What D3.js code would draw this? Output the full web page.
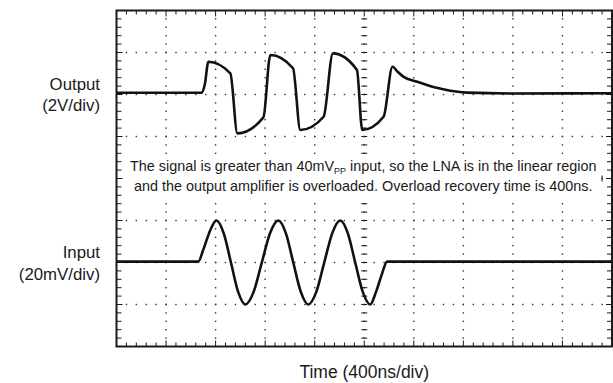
<!DOCTYPE html>
<html>
<head>
<meta charset="utf-8">
<script src="https://cdn.jsdelivr.net/npm/d3@7"></script>
<style>
html,body{margin:0;padding:0;background:#fff;}
svg{display:block;font-family:"Liberation Sans",Arial,Helvetica,sans-serif;}
</style>
</head>
<body>
<svg id="chart" width="613" height="383"></svg>
<script>
// ---- data ----
// time axis: 400 ns/div, 10 divisions
const timeDomain = [0, 4000];
// Output trace (V), 2 V/div
const outputTime  = [0, 686, 712, 742, 919, 976, 1186, 1242, 1425, 1484, 1672, 1747, 1941, 1984, 2156, 2228, 2270, 2315, 2428, 2530, 2637, 2740, 2831, 3200, 4000];
const outputVolts = [0.08, 0.08, 0.45, 1.56, 1.01, -1.85, -1.09, 1.88, 1.25, -1.69, -1.06, 1.96, 1.17, -1.69, -1.06, 1.32, 1.08, 0.85, 0.61, 0.40, 0.25, 0.14, 0.09, 0.05, 0.06];
// Input trace (mV), 20 mV/div
const inputTime = [0, 661, 700, 758, 806, 865, 924, 982, 1040, 1107, 1173, 1240, 1306, 1367, 1427, 1488, 1548, 1613, 1677, 1742, 1806, 1867, 1927, 1988, 2048, 2095, 2140, 2185, 4000];
const inputMilliVolts = [0.4, 0.4, 6, 15.5, 20, 14, 0, -14, -20, -14, 0, 14, 20, 14, 0, -14, -20, -14, 0, 14, 20, 14, 0, -14, -20, -14, -6, 0.4, 0.4];
// labels
const channelLabels = [["Output", "(2V/div)"], ["Input", "(20mV/div)"]];
const xAxisTitle = "Time (400ns/div)";
const noteLine1 = ["The signal is greater than 40mV", "PP", " input, so the LNA is in the linear region"];
const noteLine2 = "and the output amplifier is overloaded. Overload recovery time is 400ns.";

// ---- layout ----
const L = 116.5, R = 612, T = 10.5, B = 346.5;
const svg = d3.select("#chart");
const ink = "#1a1a1a";

const x = d3.scaleLinear().domain(timeDomain).range([L, R]);
const yDiv = d3.scaleLinear().domain([-4, 4]).range([B, T]);
const yOut = d3.scaleLinear().domain([-12, 4]).range([B, T]);   // 0 V at +2 div
const yIn = d3.scaleLinear().domain([-40, 120]).range([B, T]);  // 0 mV at -2 div

const majorX = d3.range(400, 4000, 400);
const minorX = d3.range(0, 4000.1, 80);
const majorY = d3.range(-3, 4, 1);
const minorY = d3.range(-4, 4.01, 0.2).map(v => +v.toFixed(2));

const g = svg.append("g");

// dotted grid
const dots = g.append("g").attr("fill", "#333");
majorX.forEach(t => {
  minorY.forEach(v => {
    if (v <= -4 || v >= 4) return;
    dots.append("rect").attr("x", x(t) - 0.7).attr("y", yDiv(v) - 0.7).attr("width", 1.4).attr("height", 1.4);
  });
});
majorY.forEach(v => {
  minorX.forEach(t => {
    if (t <= 0 || t >= 4000) return;
    dots.append("rect").attr("x", x(t) - 0.7).attr("y", yDiv(v) - 0.7).attr("width", 1.4).attr("height", 1.4);
  });
});

// center cross ticks
const cross = g.append("g").attr("stroke", ink).attr("stroke-width", 1);
minorY.forEach(v => {
  if (v <= -4 || v >= 4) return;
  cross.append("line").attr("x1", x(2000) - 3).attr("x2", x(2000) + 3).attr("y1", yDiv(v)).attr("y2", yDiv(v));
});
minorX.forEach(t => {
  if (t <= 0 || t >= 4000) return;
  cross.append("line").attr("x1", x(t)).attr("x2", x(t)).attr("y1", yDiv(0) - 3).attr("y2", yDiv(0) + 3);
});

// frame ticks
const ticks = g.append("g").attr("stroke", ink).attr("stroke-width", 1);
minorX.forEach(t => {
  if (t <= 0 || t >= 4000) return;
  const len = (Math.round(t) % 400 === 0) ? 6 : 4;
  ticks.append("line").attr("x1", x(t)).attr("x2", x(t)).attr("y1", T).attr("y2", T + len);
  ticks.append("line").attr("x1", x(t)).attr("x2", x(t)).attr("y1", B).attr("y2", B - len);
});
minorY.forEach(v => {
  if (v <= -4 || v >= 4) return;
  const len = (Math.abs(v - Math.round(v)) < 1e-6) ? 6 : 5;
  ticks.append("line").attr("x1", L).attr("x2", L + len).attr("y1", yDiv(v)).attr("y2", yDiv(v));
  ticks.append("line").attr("x1", R).attr("x2", R - len).attr("y1", yDiv(v)).attr("y2", yDiv(v));
});

// annotation background + text
g.append("rect").attr("x", 123).attr("y", 157).attr("width", 478).attr("height", 41).attr("fill", "#fff");
const note = g.append("text").attr("x", x(2000) - 1).attr("y", 171).attr("text-anchor", "middle")
  .attr("font-size", 14.4).attr("fill", ink);
note.append("tspan").text(noteLine1[0]);
note.append("tspan").attr("font-size", 9).attr("dy", 3).text(noteLine1[1]);
note.append("tspan").attr("dy", -3).text(noteLine1[2]);
g.append("text").attr("x", x(2000) - 1).attr("y", 191).attr("text-anchor", "middle")
  .attr("font-size", 14.4).attr("fill", ink).text(noteLine2);

// traces
const outData = outputTime.map((t, i) => [t, outputVolts[i]]);
const inData = inputTime.map((t, i) => [t, inputMilliVolts[i]]);
const outLine = d3.line().x(d => x(d[0])).y(d => yOut(d[1])).curve(d3.curveMonotoneX);
const inLine = d3.line().x(d => x(d[0])).y(d => yIn(d[1])).curve(d3.curveMonotoneX);
g.append("path").attr("d", outLine(outData)).attr("fill", "none").attr("stroke", "#111")
  .attr("stroke-width", 2.6).attr("stroke-linejoin", "round");
g.append("path").attr("d", inLine(inData)).attr("fill", "none").attr("stroke", "#111")
  .attr("stroke-width", 2.6).attr("stroke-linejoin", "round");

// frame
g.append("rect").attr("x", L).attr("y", T).attr("width", R - L).attr("height", B - T)
  .attr("fill", "none").attr("stroke", ink).attr("stroke-width", 2);

// channel labels
const labelY = [[yOut(0) - 5, yOut(0) + 16], [yIn(0) - 5, yIn(0) + 17]];
channelLabels.forEach((lines, i) => {
  lines.forEach((s, j) => {
    g.append("text").attr("x", 100).attr("y", labelY[i][j]).attr("text-anchor", "end")
      .attr("font-size", 16.8).attr("fill", ink).text(s);
  });
});

// x axis title
g.append("text").attr("x", x(2000)).attr("y", 378).attr("text-anchor", "middle")
  .attr("font-size", 17.5).attr("fill", ink).text(xAxisTitle);
</script>
</body>
</html>
